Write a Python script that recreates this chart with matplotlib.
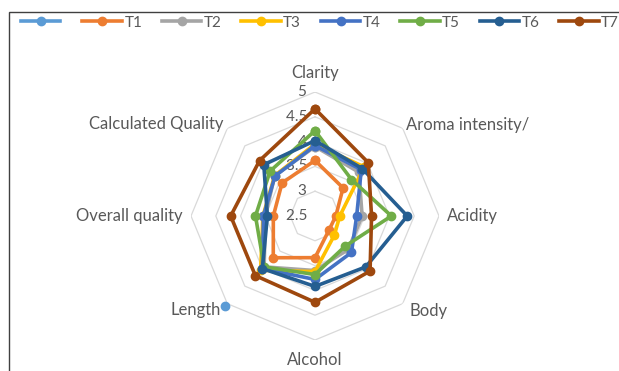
import numpy as np
import matplotlib.pyplot as plt
from matplotlib.patches import Rectangle

plt.rcParams['font.family'] = ['Lato', 'DejaVu Sans']

categories = ['Clarity', 'Aroma intensity/', 'Acidity', 'Body', 'Alcohol',
              'Length', 'Overall quality', 'Calculated Quality']
series_names = ['', 'T1', 'T2', 'T3', 'T4', 'T5', 'T6', 'T7']
nan = np.nan
s0 = [nan, nan, nan, nan, nan, 5.08, nan, nan]
t1 = [3.62, 3.30, 2.92, 2.90, 3.34, 3.69, 3.34, 3.44]
t2 = [3.90, 3.75, 3.45, 3.45, 3.60, 3.95, 3.50, 3.65]
t3 = [3.95, 3.90, 3.00, 3.05, 3.62, 4.05, 3.55, 3.65]
t4 = [3.92, 3.82, 3.34, 3.54, 3.78, 4.00, 3.54, 3.64]
t5 = [4.22, 3.54, 4.04, 3.36, 3.68, 3.95, 3.70, 3.78]
t6 = [4.02, 3.85, 4.36, 3.95, 3.92, 4.00, 3.46, 3.96]
t7 = [4.66, 4.02, 3.64, 4.07, 4.24, 4.20, 4.20, 4.08]
series = [s0, t1, t2, t3, t4, t5, t6, t7]
colors = ['#5B9BD5', '#ED7D31', '#A5A5A5', '#FFC000', '#4472C4',
          '#70AD47', '#255E91', '#9E480E']
ticks = [2.5, 3, 3.5, 4, 4.5, 5]

W, H = 619, 371
fig = plt.figure(figsize=(W / 100, H / 100), dpi=100)
cx, cy, R = 315, 216, 124
ax = fig.add_axes([(cx - R) / W, (H - cy - R) / H, 2 * R / W, 2 * R / H],
                  projection='polar')
ax.set_theta_zero_location('N')
ax.set_theta_direction(-1)
ax.set_ylim(ticks[0], ticks[-1])
ax.axis('off')

n = len(categories)
angles = np.arange(n) * 2 * np.pi / n
closed = np.append(angles, angles[0])

# octagonal grid rings
for t in ticks[1:]:
    ax.plot(closed, [t] * (n + 1), color='#D9D9D9', lw=0.9, zorder=1)

# value labels along the top spoke
for t in ticks:
    lbl = f'{t:g}'
    ax.text(0, t, lbl + '  ', ha='right', va='center', fontsize=11,
            color='#595959', zorder=2)

handles = []
for vals, c in zip(series, colors):
    v = np.append(vals, vals[0])
    h, = ax.plot(closed, v, color=c, lw=2.6, marker='o', ms=6,
                 clip_on=False, zorder=3)
    handles.append(h)

# category labels around the outside
label_pos = [(5.38, 'center', 'center'), (5.10, 'left', 'center'),
             (5.16, 'left', 'center'), (5.20, 'left', 'center'),
             (5.40, 'center', 'center'), (5.18, 'right', 'center'),
             (5.16, 'right', 'center'), (5.12, 'right', 'center')]
for a, name, (r, ha, va) in zip(angles, categories, label_pos):
    ax.text(a, r, name, ha=ha, va=va, fontsize=12, color='#595959')

fig.legend(handles, series_names, loc='upper left', ncol=8,
           bbox_to_anchor=(7 / W, 1 - 2 / H), frameon=False, fontsize=11,
           handlelength=2.6, handletextpad=0.15, columnspacing=1.28,
           labelcolor='#595959')

fig.patches.append(Rectangle((9 / W, -0.1), 1.2, (H - 12) / H + 0.1,
                             transform=fig.transFigure, fill=False,
                             edgecolor='#404040', lw=1.0))

fig.savefig('out.png', dpi=100)
